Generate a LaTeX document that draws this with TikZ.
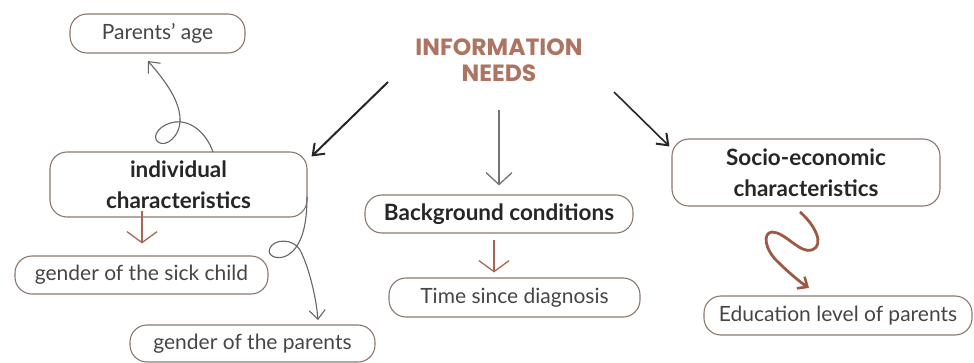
\documentclass[tikz,border=0pt]{standalone}
\usepackage{fontspec}
\setmainfont{Lato}
\newfontfamily\titlefont{Poppins}
\usetikzlibrary{arrows.meta}
\definecolor{boxline}{HTML}{8C776E}
\definecolor{titlecol}{HTML}{AD7462}
\definecolor{brownarrow}{HTML}{A86650}
\definecolor{squig}{HTML}{9C5A44}
\definecolor{txt}{HTML}{454545}
\definecolor{boldtxt}{HTML}{262626}
\tikzset{
  pill/.style={draw=boxline, line width=1.1pt, rounded corners=17pt, inner sep=0pt,
    text=txt, font=\fontsize{21}{24}\selectfont, align=center},
  bigbox/.style={draw=boxline, line width=1.1pt, rounded corners=17pt, inner sep=0pt,
    text=boldtxt, font=\bfseries\fontsize{22.5}{31}\selectfont, align=center},
  boldpill/.style={pill, text=boldtxt, font=\bfseries\fontsize{22.5}{24}\selectfont},
  mainarrow/.style={draw=black!85, line width=2pt, -{Straight Barb[length=10pt,width=15pt,line width=2pt]}},
  thinarrow/.style={draw=black!55, line width=1.3pt, -{Straight Barb[length=12pt,width=26pt,line width=1.3pt]}},
  brownv/.style={draw=brownarrow, line width=1.3pt, -{Straight Barb[length=11pt,width=30pt,line width=1.3pt]}},
  loopline/.style={draw=black!60, line width=1.1pt, -{Straight Barb[length=9pt,width=16pt,line width=1.1pt]}},
  squiggle/.style={draw=squig, line width=2.8pt, -{Straight Barb[length=8pt,width=14pt,line width=2.6pt]}}
}
\begin{document}
\begin{tikzpicture}[x=1pt,y=-1pt]
\useasboundingbox (0,0) rectangle (974,363);
% title
\node[font=\titlefont\bfseries\fontsize{23.5}{26.5}\selectfont, text=titlecol, align=center] (title) at (499,60) {INFORMATION\\NEEDS};
% boxes
\node[pill, minimum width=175pt, minimum height=39pt] (parents) at (157.5,33.5) {Parents' age};
\node[bigbox, minimum width=257pt, minimum height=65pt] (indiv) at (178.5,184.5) {individual\\characteristics};
\node[pill, minimum width=253pt, minimum height=38pt] (sick) at (141.5,275) {gender of the sick child};
\node[pill, minimum width=245pt, minimum height=37pt] (gpar) at (252.5,343.5) {gender of the parents};
\node[boldpill, minimum width=268pt, minimum height=38pt] (backg) at (499,214) {Background conditions};
\node[pill, minimum width=251pt, minimum height=39pt] (time) at (514.5,297.5) {Time since diagnosis};
\node[bigbox, minimum width=268pt, minimum height=67pt] (socio) at (806,172.5) {Socio-economic\\characteristics};
\node[pill, minimum width=268pt, minimum height=39pt] (edu) at (838,315.5) {Education level of parents};
% connector endpoints
\coordinate (tL) at (388,82);
\coordinate (tM) at (499,110);
\coordinate (tR) at (614,92);
\draw[mainarrow] (tL) -- ([shift={(4,5)}]indiv.north east);
\draw[thinarrow] (tM) -- ([shift={(0,-9)}]backg.north);
\draw[mainarrow, line width=1.6pt] (tR) -- ([shift={(-2,8)}]socio.north west);
% brown short arrows
\coordinate (s1) at (142,211);
\coordinate (s2) at (494,240);
\draw[brownv] (s1) -- ([shift={(0.5,-12)}]sick.north);
\draw[brownv] (s2) -- ([shift={(-20.5,-5)}]time.north);
% loop to parents' age
\coordinate (p0) at (213,152);
\coordinate (p1) at (148,61);
\draw[loopline] (p0) .. controls (206,132) and (190,120) .. (175,122)
  .. controls (160,124) and (151,136) .. (158,142)
  .. controls (166,148) and (181,136) .. (180,118)
  .. controls (179,97) and (160,75) .. (p1);
% loop to gender of parents
\coordinate (g0) at (307,197);
\coordinate (g1) at (318,320);
\draw[loopline] (g0) .. controls (307,225) and (302,246) .. (288,255)
  .. controls (278,261) and (266,256) .. (270,248)
  .. controls (274,239) and (293,238) .. (300,250)
  .. controls (308,265) and (316,295) .. (g1);
% squiggle
\coordinate (q0) at (800,212);
\coordinate (q1) at (809,288);
\draw[squiggle] (q0) .. controls (815,225) and (825,245) .. (812,250)
  .. controls (800,254) and (785,232) .. (772,232)
  .. controls (762,233) and (765,250) .. (778,262)
  .. controls (788,272) and (800,282) .. (q1);
\end{tikzpicture}
\end{document}
